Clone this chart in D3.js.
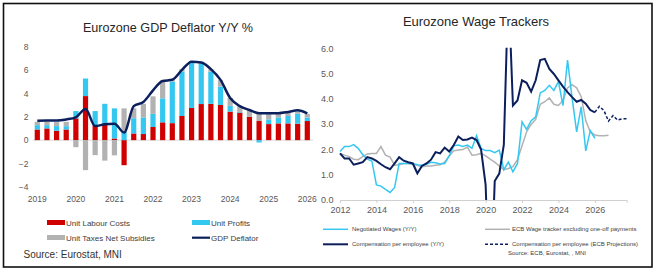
<!DOCTYPE html>
<html>
<head>
    <meta charset="utf-8" />
    <title>Eurozone GDP Deflator / Wage Trackers</title>
    <script src="https://cdn.jsdelivr.net/npm/d3@7"></script>
    <style>
        body {
            margin: 0;
            padding: 0;
            background: #fff;
        }

        svg text {
            font-family: "Liberation Sans", Arial, sans-serif;
        }
    </style>
</head>
<body>
    <svg id="chart" width="656" height="272"></svg>
    <script>
        // left panel: GDP deflator decomposition, quarterly 2019Q1 - 2026Q1
        var ulc = [0.91, 1.0, 0.8, 0.91, 1.85, 3.76, 1.28, 1.3, 0.14, -2.14, 0.57, 0.52, 1.12, 1.52, 1.45,
            2.06, 2.75, 3.08, 3.1, 3.0, 2.43, 2.35, 2.0, 1.63, 1.37, 1.43, 1.43, 1.4, 1.63];
        var profits = [0.37, 0.28, 0.4, 0.28, 0.63, 1.5, 1.2, 1.8, 2.57, 0.71, 1.3, 1.42, 1.12, 2.05, 3.55,
            3.8, 3.85, 3.42, 2.75, 1.57, 0.5, 0.06, 0, -0.2, 0.4, 0.51, 0.63, 0.85, 0.3];
        var taxes = [0.28, 0.3, 0.34, 0.37, -0.6, -2.56, -1.28, -1.75, -1.3, 2.0, 0.85, 1.16, 1.5, 1.55, 0.15,
            0.2, 0.1, 0.1, 0.2, 0.55, 0.67, 0.5, 0.57, 0.6, 0.46, 0.34, 0.28, 0.2, 0.32];
        var deflator = [1.65, 1.68, 1.68, 1.77, 1.95, 2.65, 1.2, 1.35, 1.4, 0.65, 2.9, 3.25, 4.25, 5.05, 5.15,
            6.0, 6.7, 6.63, 6.06, 5.14, 3.6, 2.9, 2.57, 2.3, 2.3, 2.3, 2.4, 2.55, 2.28];
        var leftYears = ["2019", "2020", "2021", "2022", "2023", "2024", "2025", "2026"];
        var leftTicks = [-4, -2, 0, 2, 4, 6, 8];

        // right panel: wage trackers, quarterly from 2012Q1
        var negotiated = [1.92, 2.12, 2.12, 2.2, 2.05, 1.8, 1.62, 1.55, 0.6, 0.55, 0.42, 0.3, 0.5, 1.45, 1.45, 1.45,
            1.45, 1.4, 1.38, 1.42, 1.5, 1.48, 1.43, 1.45, 1.75, 2.15, 2.18, 2.12, 2.18, 2.05, 2.55, 2.05,
            1.96, 1.96, 1.88, 1.98, 1.2, 1.5, 1.12, 1.45, 3.1, 2.8, 3.15, 3.3, 4.25, 4.35, 4.55, 4.35,
            4.7, 3.75, 5.55, 4.05, 2.7, 3.7, 1.95, 2.75, 2.45];
        var ecbTracker = [1.85, 1.78, 1.72, 1.62, 1.6, 1.72, 1.83, 1.85, 1.85, 2.12, 1.78, 1.7, 1.38, 1.4, 1.45, 1.45,
            1.42, 1.38, 1.32, 1.35, 1.35, 1.38, 1.4, 1.5, 1.75, 1.95, 1.98, 2.0, 2.1, 1.78, 1.8, 1.85,
            1.75, 1.62, 1.5, 1.35, 1.2, 1.25, 1.32, 1.6, 2.15, 2.7, 3.0, 3.2, 3.8, 3.9, 4.05, 3.8,
            3.75, 3.95, 4.45, 4.58, 4.45, 4.1, 3.15, 2.7, 2.58, 2.55, 2.55, 2.57];
        var compEmp = [1.85, 1.65, 1.65, 1.4, 1.45, 1.5, 1.7, 1.65, 1.55, 1.42, 1.3, 1.22, 1.45, 1.7, 1.56, 1.5,
            1.45, 1.06, 1.35, 1.45, 1.6, 1.9, 1.85, 2.08, 1.92, 2.18, 2.52, 2.38, 2.4, 2.48, 2.38, 2.0,
            0.6, -4.5, 0.75, 1.05, 2.2, 8.5, 3.75, 3.95, 4.75, 4.65, 4.3, 4.75, 5.55, 5.6, 5.2, 5.0,
            4.75, 4.5, 4.28, 4.08, 3.9, 3.97, 3.82, 3.57, 3.48];
        var compProj = [3.48, 3.72, 3.55, 3.13, 3.35, 3.17, 3.22, 3.22];
        var rightYears = [2012, 2014, 2016, 2018, 2020, 2022, 2024, 2026];
        var rightTicks = [0, 1, 2, 3, 4, 5, 6];

        var red = "#d00000", cyan = "#34c8f0", grey = "#b2b2b2", navy = "#0b1f5c", txt = "#595959";

        var svg = d3.select("#chart");

        // outer frame
        svg.append("rect")
            .attr("x", 3.5).attr("y", 3.5).attr("width", 648.5).attr("height", 263.5)
            .attr("fill", "none").attr("stroke", "#111").attr("stroke-width", 1.6);

        drawLeft();
        drawRight();

        function drawLeft() {
            var quarters = d3.range(ulc.length).map(function (i) {
                return (2019 + Math.floor(i / 4)) + "Q" + (i % 4 + 1);
            });
            var x = d3.scalePoint().domain(quarters).range([37.3, 307.3]);
            var y = d3.scaleLinear().domain([-4, 8]).range([187, 46.4]);

            svg.append("text")
                .attr("x", 168).attr("y", 31.5).attr("text-anchor", "middle")
                .attr("font-size", 12.6).attr("fill", "#262626")
                .text("Eurozone GDP Deflator Y/Y %");

            var yAxis = svg.append("g")
                .attr("transform", "translate(31.5,0)")
                .call(d3.axisLeft(y).tickValues(leftTicks).tickSize(0).tickPadding(3).tickFormat(d3.format("d")));
            yAxis.select(".domain").remove();
            yAxis.selectAll("text").attr("font-size", 8.5).attr("fill", txt).attr("font-family", null);

            svg.append("line")
                .attr("x1", 33).attr("x2", 313).attr("y1", y(0)).attr("y2", y(0))
                .attr("stroke", "#d9d9d9").attr("stroke-width", 1);

            var rows = quarters.map(function (q, i) {
                return { q: q, ulc: ulc[i], profits: profits[i], taxes: taxes[i] };
            });
            var series = d3.stack()
                .keys(["ulc", "profits", "taxes"])
                .offset(d3.stackOffsetDiverging)(rows);
            var colour = { ulc: red, profits: cyan, taxes: grey };
            var bw = 5.2;

            svg.append("g").selectAll("g")
                .data(series)
                .join("g")
                .attr("fill", function (d) { return colour[d.key]; })
                .selectAll("rect")
                .data(function (d) { return d; })
                .join("rect")
                .attr("x", function (d) { return x(d.data.q) - bw / 2; })
                .attr("width", bw)
                .attr("y", function (d) { return y(Math.max(d[0], d[1])); })
                .attr("height", function (d) { return Math.abs(y(d[0]) - y(d[1])); });

            var line = d3.line()
                .x(function (d, i) { return x(quarters[i]); })
                .y(function (d) { return y(d); })
                .curve(d3.curveMonotoneX);
            svg.append("path")
                .datum(deflator)
                .attr("d", line)
                .attr("fill", "none").attr("stroke", navy).attr("stroke-width", 2.5);

            svg.append("g").selectAll("text")
                .data(leftYears)
                .join("text")
                .attr("x", function (d) { return x(d + "Q1"); })
                .attr("y", 201.5)
                .attr("text-anchor", "middle").attr("font-size", 8.5).attr("fill", txt)
                .text(function (d) { return d; });

            // legend
            var lg = svg.append("g").attr("font-size", 8).attr("fill", "#404040");
            lg.append("rect").attr("x", 47).attr("y", 220).attr("width", 18).attr("height", 5).attr("fill", red);
            lg.append("text").attr("x", 66).attr("y", 225.5).text("Unit Labour Costs");
            lg.append("rect").attr("x", 192).attr("y", 220).attr("width", 18).attr("height", 5).attr("fill", cyan);
            lg.append("text").attr("x", 211).attr("y", 225.5).text("Unit Profits");
            lg.append("rect").attr("x", 47).attr("y", 235).attr("width", 18).attr("height", 5).attr("fill", grey);
            lg.append("text").attr("x", 66).attr("y", 240.5).text("Unit Taxes Net Subsidies");
            lg.append("line").attr("x1", 192).attr("x2", 210).attr("y1", 237.7).attr("y2", 237.7)
                .attr("stroke", navy).attr("stroke-width", 2.2);
            lg.append("text").attr("x", 211).attr("y", 240.5).text("GDP Deflator");

            svg.append("text")
                .attr("x", 23.5).attr("y", 257.5)
                .attr("font-size", 10).attr("fill", "#333")
                .text("Source: Eurostat, MNI");
        }

        function drawRight() {
            var x = d3.scaleLinear().domain([2012, 2027.75]).range([340, 626.7]);
            var y = d3.scaleLinear().domain([0, 6]).range([200, 48.8]);

            svg.append("text")
                .attr("x", 476).attr("y", 26).attr("text-anchor", "middle")
                .attr("font-size", 13).attr("fill", "#262626")
                .text("Eurozone Wage Trackers");

            svg.append("g").selectAll("text")
                .data(rightTicks)
                .join("text")
                .attr("x", 333.5).attr("y", function (d) { return y(d) + 3; })
                .attr("text-anchor", "end").attr("font-size", 9).attr("fill", txt)
                .text(d3.format(".1f"));

            var xAxis = svg.append("g")
                .attr("transform", "translate(0," + y(0) + ")")
                .call(d3.axisBottom(x).tickValues(rightYears).tickSize(3).tickPadding(4).tickFormat(d3.format("d")));
            xAxis.select(".domain").attr("stroke", "#d0d0d0");
            xAxis.selectAll(".tick line").attr("stroke", "#d0d0d0");
            xAxis.selectAll("text").attr("font-size", 9).attr("fill", txt).attr("font-family", null);

            svg.append("clipPath").attr("id", "wageClip")
                .append("rect").attr("x", 330).attr("y", y(6) - 1).attr("width", 310).attr("height", y(0) - y(6) + 1);

            var plot = svg.append("g").attr("clip-path", "url(#wageClip)");

            function quarterly(start) {
                return d3.line()
                    .x(function (d, i) { return x(start + i / 4); })
                    .y(function (d) { return y(d); });
            }

            plot.append("path").datum(ecbTracker).attr("d", quarterly(2012))
                .attr("fill", "none").attr("stroke", grey).attr("stroke-width", 1.5);
            plot.append("path").datum(negotiated).attr("d", quarterly(2012))
                .attr("fill", "none").attr("stroke", cyan).attr("stroke-width", 1.5);
            plot.append("path").datum(compEmp).attr("d", quarterly(2012))
                .attr("fill", "none").attr("stroke", navy).attr("stroke-width", 2);
            plot.append("path").datum(compProj).attr("d", quarterly(2026))
                .attr("fill", "none").attr("stroke", navy).attr("stroke-width", 1.5)
                .attr("stroke-dasharray", "3,2");

            // legend
            var lg = svg.append("g").attr("font-size", 6).attr("fill", "#404040");
            lg.append("line").attr("x1", 323).attr("x2", 348).attr("y1", 229.3).attr("y2", 229.3)
                .attr("stroke", cyan).attr("stroke-width", 1.5);
            lg.append("text").attr("x", 352).attr("y", 231.4).text("Negotiated Wages (Y/Y)");
            lg.append("line").attr("x1", 485).attr("x2", 510).attr("y1", 229.3).attr("y2", 229.3)
                .attr("stroke", grey).attr("stroke-width", 1.5);
            lg.append("text").attr("x", 512).attr("y", 231.4).text("ECB Wage tracker excluding one-off payments");
            lg.append("line").attr("x1", 323).attr("x2", 348).attr("y1", 244.3).attr("y2", 244.3)
                .attr("stroke", navy).attr("stroke-width", 2);
            lg.append("text").attr("x", 352).attr("y", 246.4).text("Compensation per employee (Y/Y)");
            lg.append("line").attr("x1", 485).attr("x2", 510).attr("y1", 244.3).attr("y2", 244.3)
                .attr("stroke", navy).attr("stroke-width", 1.5).attr("stroke-dasharray", "3,2");
            lg.append("text").attr("x", 512).attr("y", 246.4).text("Compensation per employee (ECB Projections)");
            lg.append("text").attr("x", 508).attr("y", 254.6).text("Source: ECB, Eurostat, , MNI");
        }
    </script>
</body>
</html>
